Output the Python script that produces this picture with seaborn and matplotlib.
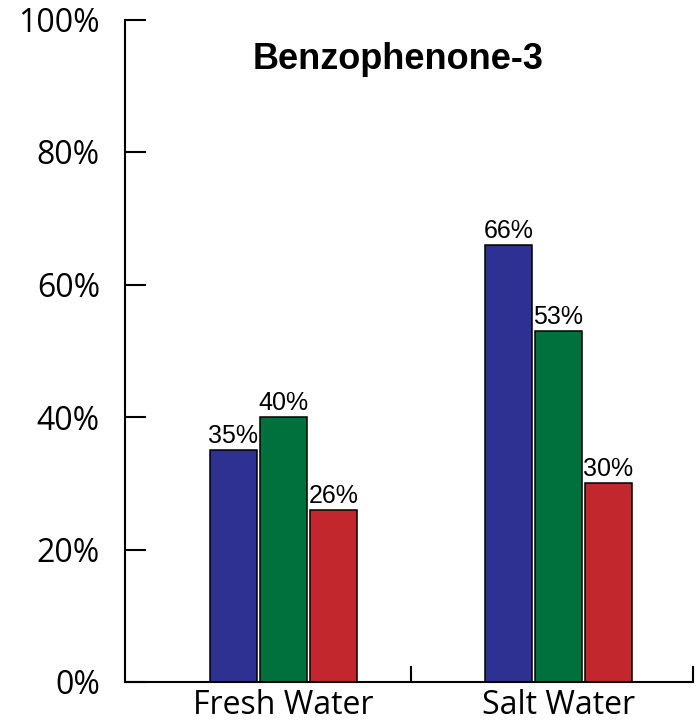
import matplotlib
matplotlib.use("Agg")
import matplotlib.pyplot as plt
import seaborn as sns
import pandas as pd

categories = ["Fresh Water", "Salt Water"]
series = ["Series 1", "Series 2", "Series 3"]
values = {
    "Series 1": [35, 66],
    "Series 2": [40, 53],
    "Series 3": [26, 30],
}
value_labels = {
    "Series 1": ["35%", "66%"],
    "Series 2": ["40%", "53%"],
    "Series 3": ["26%", "30%"],
}
colors = ["#2E3192", "#00703C", "#C1272D"]
y_ticks = [0, 20, 40, 60, 80, 100]
y_tick_labels = ["0%", "20%", "40%", "60%", "80%", "100%"]
title = "Benzophenone-3"

rows = []
for s in series:
    for c, v in zip(categories, values[s]):
        rows.append({"Water": c, "Series": s, "Value": v})
df = pd.DataFrame(rows)

sns.set_style("ticks")
plt.rcParams["font.family"] = ["Open Sans", "DejaVu Sans"]
plt.rcParams["text.color"] = "black"
plt.rcParams["xtick.color"] = "black"
plt.rcParams["ytick.color"] = "black"
plt.rcParams["axes.edgecolor"] = "black"

fig = plt.figure(figsize=(6.96, 7.21), dpi=100)
ax = fig.add_axes([125 / 696, 1 - 682 / 721, 568 / 696, (682 - 19.5) / 721])

sns.barplot(data=df, x="Water", y="Value", hue="Series", order=categories,
            hue_order=series, palette=colors, width=0.5455, gap=0.06,
            edgecolor="black", linewidth=1.1, legend=False, ax=ax,
            errorbar=None, saturation=1)

for container, s in zip(ax.containers, series):
    ax.bar_label(container, labels=value_labels[s], padding=1.5,
                 fontsize=18, color="black",
                 family=["Liberation Sans Narrow", "Liberation Sans"])

ax.set_ylim(0, 100)
ax.set_xlim(-0.576, 1.489)
ax.set_yticks(y_ticks)
ax.set_yticklabels(y_tick_labels)
ax.tick_params(axis="y", direction="in", length=15, width=1.5, pad=18,
               labelsize=23, colors="black")
ax.tick_params(axis="x", which="major", length=0, pad=5, labelsize=23,
               colors="black")
ax.set_xticks([0.4636, 1.489], minor=True)
ax.tick_params(axis="x", which="minor", direction="in", length=11.5, width=1.5)
ax.set_xlabel("")
ax.set_ylabel("")
for side in ["top", "right"]:
    ax.spines[side].set_visible(False)
for side in ["left", "bottom"]:
    ax.spines[side].set_linewidth(1.5)
    ax.spines[side].set_color("black")

ax.text(0.4815, 0.925, title, transform=ax.transAxes, ha="center", va="baseline",
        fontsize=26, fontweight="bold", color="black",
        family=["Liberation Sans", "DejaVu Sans"])

fig.savefig("out.png", dpi=100)
